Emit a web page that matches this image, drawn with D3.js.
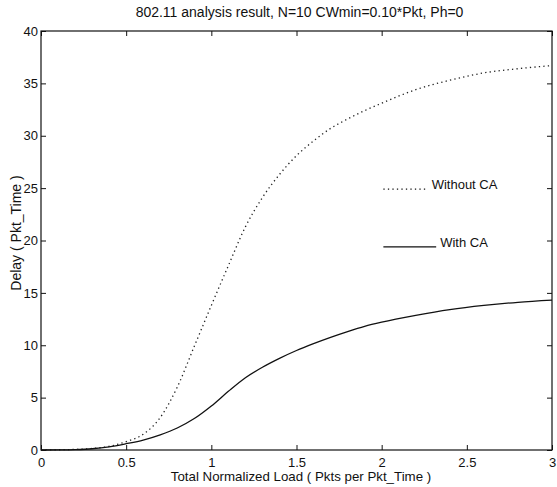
<!DOCTYPE html>
<html>
<head>
<meta charset="utf-8">
<script src="https://cdn.jsdelivr.net/npm/d3@7"></script>
<style>
  body { margin: 0; background: #fff; }
  svg { display: block; font-family: "Liberation Sans", Arial, sans-serif; }
</style>
</head>
<body>
<svg id="chart" width="557" height="487"></svg>
<script>
// Data
const loads = [0, 0.1, 0.2, 0.3, 0.4, 0.5, 0.6, 0.7, 0.8, 0.9, 1.0, 1.1, 1.2, 1.3, 1.4, 1.5,
               1.6, 1.7, 1.8, 1.9, 2.0, 2.2, 2.4, 2.6, 2.8, 3.0];
const delayWithoutCA = [0, 0.02, 0.06, 0.15, 0.35, 0.8, 1.5, 3.1, 6.0, 9.9, 13.8, 17.6, 21.3, 24.1, 26.3, 28.1,
                        29.5, 30.7, 31.6, 32.4, 33.1, 34.4, 35.3, 36.0, 36.4, 36.7];
const delayWithCA = [0, 0.01, 0.04, 0.12, 0.3, 0.6, 0.95, 1.45, 2.1, 3.0, 4.2, 5.6, 6.9, 7.9, 8.75, 9.5,
                     10.15, 10.75, 11.3, 11.8, 12.2, 12.85, 13.4, 13.8, 14.1, 14.3];
const xTicks = [0, 0.5, 1, 1.5, 2, 2.5, 3];
const yTicks = [0, 5, 10, 15, 20, 25, 30, 35, 40];

const svg = d3.select('#chart');
const margin = { top: 31, right: 5, bottom: 37, left: 41 };
const width = +svg.attr("width") - margin.left - margin.right;
const height = +svg.attr("height") - margin.top - margin.bottom;
const g = svg.append("g").attr("transform", `translate(${margin.left},${margin.top})`);

const x = d3.scaleLinear().domain([0, 3]).range([0, width]);
const y = d3.scaleLinear().domain([0, 40]).range([height, 0]);

// axes box with inward ticks on all four sides
function styleAxis(sel) {
    sel.select(".domain").remove();
    sel.selectAll(".tick line").attr("stroke", "#111");
    sel.selectAll(".tick text").attr("fill", "#111").style("font-size", "13px");
}

g.append("g")
    .attr("transform", `translate(0,${height})`)
    .call(d3.axisBottom(x).tickValues(xTicks).tickFormat(d3.format("")).tickSizeInner(-5).tickPadding(8))
    .call(styleAxis);

g.append("g")
    .call(d3.axisTop(x).tickValues(xTicks).tickFormat("").tickSizeInner(-5))
    .call(styleAxis);

g.append("g")
    .call(d3.axisLeft(y).tickValues(yTicks).tickSizeInner(-5).tickPadding(3))
    .call(styleAxis);

g.append("g")
    .attr("transform", `translate(${width},0)`)
    .call(d3.axisRight(y).tickValues(yTicks).tickFormat("").tickSizeInner(-5))
    .call(styleAxis);

g.append("rect")
    .attr("width", width)
    .attr("height", height)
    .attr("fill", "none")
    .attr("stroke", "#111")
    .attr("stroke-width", 1.2);

const line = series => d3.line()
    .x((d, i) => x(loads[i]))
    .y(d => y(d))
    .curve(d3.curveMonotoneX)(series);

g.append("path")
    .attr("d", line(delayWithoutCA))
    .attr("fill", "none")
    .attr("stroke", "#222")
    .attr("stroke-width", 1.3)
    .attr("stroke-dasharray", "1.3,3.2");

g.append("path")
    .attr("d", line(delayWithCA))
    .attr("fill", "none")
    .attr("stroke", "#111")
    .attr("stroke-width", 1.3);

// legend (placed in data coords, like a MATLAB gtext)
const legend = [
    { label: "Without CA", dash: "1.3,3.2", x0: 2.01, x1: 2.27, yv: 24.9 },
    { label: "With CA", dash: null, x0: 2.01, x1: 2.32, yv: 19.4 }
];
legend.forEach(l => {
    g.append("line")
        .attr("x1", x(l.x0)).attr("x2", x(l.x1))
        .attr("y1", y(l.yv)).attr("y2", y(l.yv))
        .attr("stroke", "#111")
        .attr("stroke-width", 1.2)
        .attr("stroke-dasharray", l.dash);
    g.append("text")
        .attr("x", x(l.x1) + 4)
        .attr("y", y(l.yv))
        .attr("fill", "#111")
        .style("font-size", "13px")
        .text(l.label);
});

// title and axis labels
svg.append("text")
    .attr("x", margin.left + width / 2 + 3)
    .attr("y", 17)
    .attr("text-anchor", "middle")
    .attr("fill", "#111")
    .style("font-size", "14px")
    .text("802.11 analysis result, N=10 CWmin=0.10*Pkt, Ph=0");

svg.append("text")
    .attr("x", 301)
    .attr("y", 481)
    .attr("text-anchor", "middle")
    .attr("fill", "#111")
    .style("font-size", "13.3px")
    .text("Total Normalized Load ( Pkts per Pkt_Time )");

svg.append("text")
    .attr("transform", `translate(21,233) rotate(-90)`)
    .attr("text-anchor", "middle")
    .attr("fill", "#111")
    .style("font-size", "14px")
    .text("Delay ( Pkt_Time )");
</script>
</body>
</html>
